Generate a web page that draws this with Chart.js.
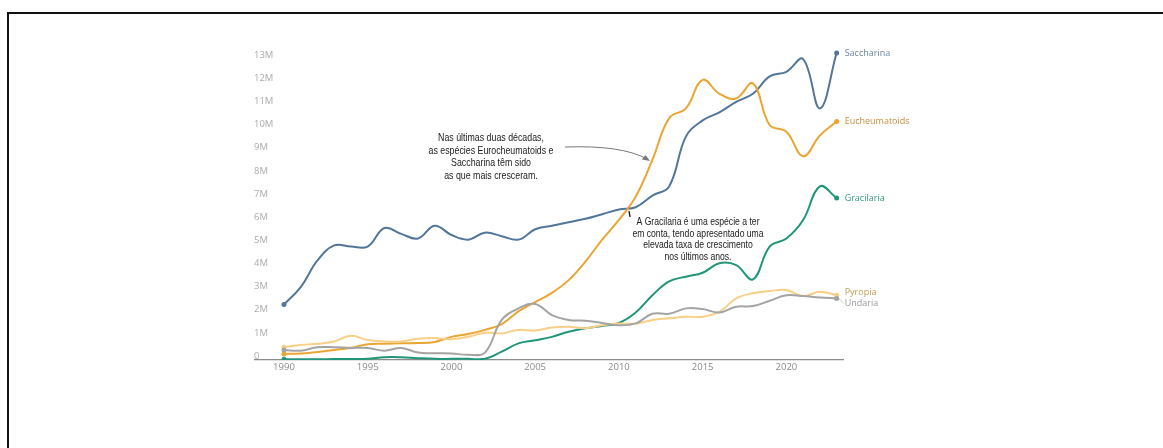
<!DOCTYPE html>
<html lang="pt">
<head>
  <meta charset="UTF-8" />
  <title>Produção de algas por espécie</title>
  <script src="https://cdn.jsdelivr.net/npm/chart.js"></script>
  <style>
    html,body{margin:0;padding:0;background:#fff;}
    #wrap{position:relative;width:1163px;height:448px;overflow:hidden;}
    #frame{position:absolute;left:7px;top:12px;right:-10px;bottom:-10px;border-top:2px solid #111;border-left:2px solid #111;}
    canvas{position:absolute;left:0;top:0;}
  </style>
</head>
<body>
<div id="wrap">
  <div id="frame"></div>
  <canvas id="chart" width="1163" height="448"></canvas>
</div>
<script>
const years = [1990,1991,1992,1993,1994,1995,1996,1997,1998,1999,2000,2001,2002,2003,2004,2005,2006,2007,2008,2009,2010,2011,2012,2013,2014,2015,2016,2017,2018,2019,2020,2021,2022,2023];

// valores em milhões de toneladas
const saccharina    = [2.4,3.15,4.3,4.95,4.9,4.9,5.7,5.45,5.25,5.8,5.4,5.2,5.5,5.35,5.2,5.65,5.8,5.95,6.1,6.3,6.5,6.6,7.1,7.5,9.65,10.35,10.7,11.15,11.5,12.25,12.45,13.0,10.87,13.26];
const eucheumatoids = [0.26,0.28,0.35,0.43,0.53,0.68,0.7,0.72,0.73,0.78,1.0,1.12,1.3,1.55,2.1,2.5,2.9,3.45,4.25,5.2,6.05,7.05,8.65,10.45,10.87,12.1,11.5,11.3,11.95,10.15,9.86,8.8,9.7,10.3];
const gracilaria    = [0.03,0.03,0.03,0.04,0.04,0.05,0.12,0.12,0.08,0.05,0.05,0.05,0.05,0.36,0.72,0.85,1.0,1.22,1.37,1.47,1.6,2.05,2.8,3.4,3.6,3.77,4.18,4.1,3.48,4.9,5.25,6.05,7.5,7.0];
const pyropia       = [0.55,0.65,0.7,0.8,1.05,0.86,0.8,0.8,0.92,0.95,0.9,1.0,1.18,1.15,1.3,1.27,1.4,1.44,1.37,1.5,1.58,1.57,1.73,1.8,1.87,1.87,2.08,2.66,2.88,2.98,3.02,2.76,2.95,2.8];
const undaria       = [0.43,0.4,0.55,0.55,0.52,0.52,0.4,0.52,0.32,0.29,0.28,0.23,0.32,1.73,2.23,2.42,1.94,1.73,1.7,1.6,1.5,1.58,2.0,2.0,2.23,2.2,2.05,2.3,2.33,2.56,2.8,2.76,2.7,2.66];

const xTicks = [1990,1995,2000,2005,2010,2015,2020];
const yTicks = [0,1,2,3,4,5,6,7,8,9,10,11,12,13];

const seriesNames  = ['Saccharina','Eucheumatoids','Gracilaria','Pyropia','Undaria'];
const seriesValues = [saccharina, eucheumatoids, gracilaria, pyropia, undaria];
const lineColors   = ['#52769a','#eaa533','#1f9679','#f7cf86','#a4a4a4'];
const labelColors  = ['#6a869f','#c98f3c','#2f9b85','#c29a4f','#9a9a9a'];
const labelShift   = [0, 0, 0, -3, 5];

const note1 = ['Nas últimas duas décadas,','as espécies Eurocheumatoids e','Saccharina têm sido','as que mais cresceram.'];
const note2 = ['A Gracilaria é uma espécie a ter','em conta, tendo apresentado uma','elevada taxa de crescimento','nos últimos anos.'];

const last = years.length - 1;
const datasets = seriesNames.map((name, k) => ({
  label: name,
  data: years.map((x, i) => ({x, y: seriesValues[k][i]})),
  borderColor: lineColors[k],
  backgroundColor: lineColors[k],
  borderWidth: 2,
  tension: 0.4,
  pointRadius: years.map((_, i) => (i === 0 || i === last) ? 2.5 : 0),
  pointBorderWidth: 0,
  labelColor: labelColors[k],
  labelShift: labelShift[k]
})).reverse();

// texto centrado e ligeiramente condensado
function narrowText(ctx, t, x, y, sx) {
  ctx.save();
  ctx.translate(x, y);
  ctx.scale(sx, 1);
  ctx.fillText(t, 0, 0);
  ctx.restore();
}

const extras = {
  id: 'extras',
  afterDatasetsDraw(chart) {
    const ctx = chart.ctx;
    ctx.save();
    // end labels
    ctx.font = '9px "Open Sans", sans-serif';
    ctx.textAlign = 'left';
    ctx.textBaseline = 'middle';
    chart.data.datasets.forEach((ds, i) => {
      const pt = chart.getDatasetMeta(i).data[last];
      if (ds.label === 'Undaria') {
        ctx.strokeStyle = '#bbb'; ctx.lineWidth = 0.8;
        ctx.beginPath(); ctx.moveTo(pt.x + 2, pt.y); ctx.lineTo(pt.x + 7, pt.y + ds.labelShift); ctx.stroke();
      }
      ctx.fillStyle = ds.labelColor;
      ctx.fillText(ds.label, pt.x + 8, pt.y + ds.labelShift);
    });

    // annotations
    ctx.font = '10.5px "Liberation Sans", Arial, sans-serif';
    ctx.textAlign = 'center';
    ctx.fillStyle = '#1a1a1a';
    note1.forEach((t, i) => narrowText(ctx, t, 491, 138 + i * 12.7, 0.84));
    note2.forEach((t, i) => narrowText(ctx, t, 698, 222 + i * 11.8, 0.82));

    // curved arrow
    ctx.strokeStyle = '#777'; ctx.fillStyle = '#777'; ctx.lineWidth = 1;
    ctx.beginPath(); ctx.moveTo(565, 147); ctx.quadraticCurveTo(622, 145, 647, 159); ctx.stroke();
    ctx.beginPath(); ctx.moveTo(650, 161); ctx.lineTo(642, 159.5); ctx.lineTo(645.5, 155); ctx.closePath(); ctx.fill();

    // small pointer mark
    ctx.strokeStyle = '#111'; ctx.lineWidth = 1.3;
    ctx.beginPath(); ctx.moveTo(629, 211); ctx.lineTo(630, 217); ctx.stroke();
    ctx.restore();
  }
};

new Chart(document.getElementById('chart').getContext('2d'), {
  type: 'line',
  data: { datasets },
  options: {
    responsive: false,
    animation: false,
    events: [],
    layout: { padding: { left: 255, right: 320, top: 47.5, bottom: 68 } },
    plugins: { legend: { display: false }, tooltip: { enabled: false } },
    scales: {
      x: {
        type: 'linear', min: 1988.27, max: 2023.38,
        grid: { display: false, drawTicks: false },
        border: { display: true, color: '#8c8c8c', width: 1.2 },
        afterBuildTicks: s => { s.ticks = xTicks.map(v => ({value: v})); },
        ticks: {
          padding: 2, autoSkip: false, maxRotation: 0,
          color: '#8a8a8a', font: { family: '"Open Sans", sans-serif', size: 9.5 },
          callback: v => String(v)
        },
        afterFit: s => { s.height = 20; }
      },
      y: {
        min: 0, max: 13.5,
        grid: { display: false, drawTicks: false },
        border: { display: false },
        afterBuildTicks: s => { s.ticks = yTicks.map(v => ({value: v})); },
        ticks: {
          mirror: true, padding: -1, labelOffset: -4, autoSkip: false,
          color: '#ababab', font: { family: '"Open Sans", sans-serif', size: 9.5 },
          callback: v => v === 0 ? '0' : v + 'M'
        },
        afterFit: s => { s.width = 0; }
      }
    }
  },
  plugins: [extras]
});
</script>
</body>
</html>
